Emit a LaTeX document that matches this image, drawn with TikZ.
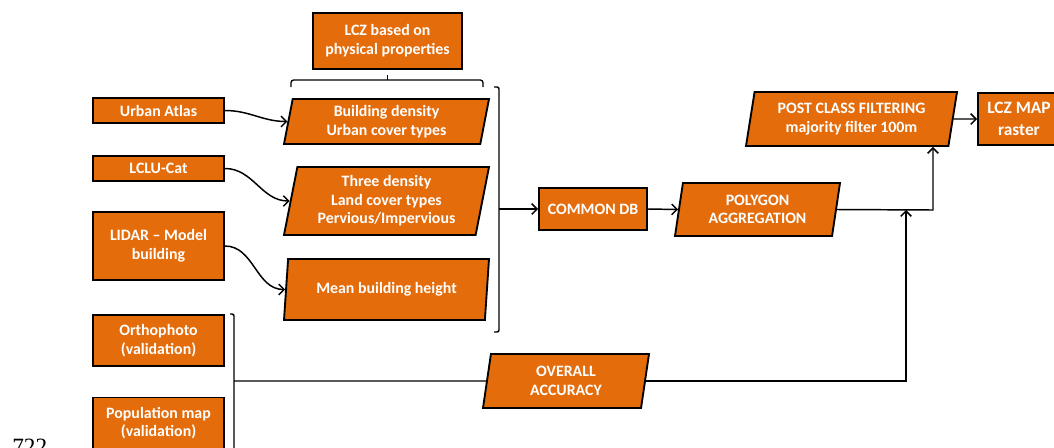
\documentclass[tikz,border=0pt]{standalone}
\usepackage{fontspec}
\setmainfont{Carlito}
\newfontfamily\numfont{Liberation Serif}
\definecolor{lczorange}{HTML}{E46C0A}
\usetikzlibrary{shapes.geometric,arrows.meta}

\begin{document}
\begin{tikzpicture}[x=0.75pt,y=-0.75pt,font=\fontsize{11.9}{14}\selectfont\bfseries,
	box/.style 2 args={draw,line width=1.4pt,fill=lczorange,text=white,align=center,inner sep=1pt,
		minimum width=#1*0.75pt,minimum height=#2*0.75pt},
	para/.style 2 args={box={#1}{#2},trapezium,trapezium left angle=76,trapezium right angle=104,
		trapezium stretches body},
	link/.style={line width=1.1pt,-{Straight Barb[length=4pt,width=8pt]}},
	rule/.style={line width=1.1pt,rounded corners=1.5pt}]
		\useasboundingbox (0,0) rectangle (1054,447);
		% sources
		\node[box={131}{25}] (ua) at (158.5,110.5) {Urban Atlas};
		\node[box={131}{25}] (lclu) at (158.5,168.5) {LCLU-Cat};
		\node[box={131}{68}] (lidar) at (158.5,246) {LIDAR -- Model\\building};
		\node[box={131}{51}] (ortho) at (158.5,340.5) {Orthophoto\\(validation)};
		\node[box={131}{51}] (pop) at (158.5,423) {Population map\\(validation)};
		% physical properties
		\node[box={149}{56}] (lcz) at (387.5,41) {LCZ based on\\physical properties};
		\node[para={205}{45}] (bd) at (386.5,121.5) {Building density\\Urban cover types};
		\node[para={205}{68}] (td) at (386.5,201) {Three density\\Land cover types\\Pervious/Impervious};
		\node[para={205}{61}] (mbh) at (386.5,289.5) {Mean building height};
		% processing chain
		\node[box={108}{42}] (cdb) at (593,209) {COMMON DB};
		\node[para={165}{53}] (poly) at (757.5,209.5) {POLYGON\\AGGREGATION};
		\node[para={211}{54}] (pcf) at (851.5,119) {POST CLASS FILTERING\\majority filter 100m};
		\node[box={82}{52},font=\fontsize{13}{16.5}\selectfont\bfseries] (map) at (1019,119) {LCZ MAP\\raster};
		\node[para={166}{54}] (oa) at (566,381) {OVERALL\\ACCURACY};
		\node[font=\numfont\fontsize{17.5}{20}\selectfont,anchor=base west,inner sep=0] (num) at (12,454) {722};
		% braces
		\draw[line width=1pt,rounded corners=2pt] (291,87) -- (291,80) -- (483,80) -- (483,87);
		\draw[line width=1pt] (lcz.south |- 0,80) -- ++(0,-5);
		\draw[rule] (494,87) -- (499,87) -- (499,332) -- (494,332);
		\draw[rule] (230,314) -- (234,314) -- (234,470);
		\coordinate (bk) at (499,209);
		\coordinate (vb) at (234,381);
		\coordinate (up) at (933,210);
		\coordinate (mg) at (906,210);
		% connectors
		\draw[link] (ua.east) to[out=0,in=180] (bd.west);
		\draw[link] (lclu.east) to[out=0,in=180] (td.west);
		\draw[link] (lidar.east) to[out=0,in=180] (mbh.west);
		\draw[link] (bk) -- (cdb.west);
		\draw[link] (cdb.east) -- (poly.west);
		\draw[link] (poly.east) -- (up) -- (up |- pcf.south);
		\draw[link] (pcf.east) -- (map.west);
		\draw[line width=1.1pt] (vb) -- (oa.west);
		\draw[link] (oa.east) -| (mg);
\end{tikzpicture}
\end{document}
